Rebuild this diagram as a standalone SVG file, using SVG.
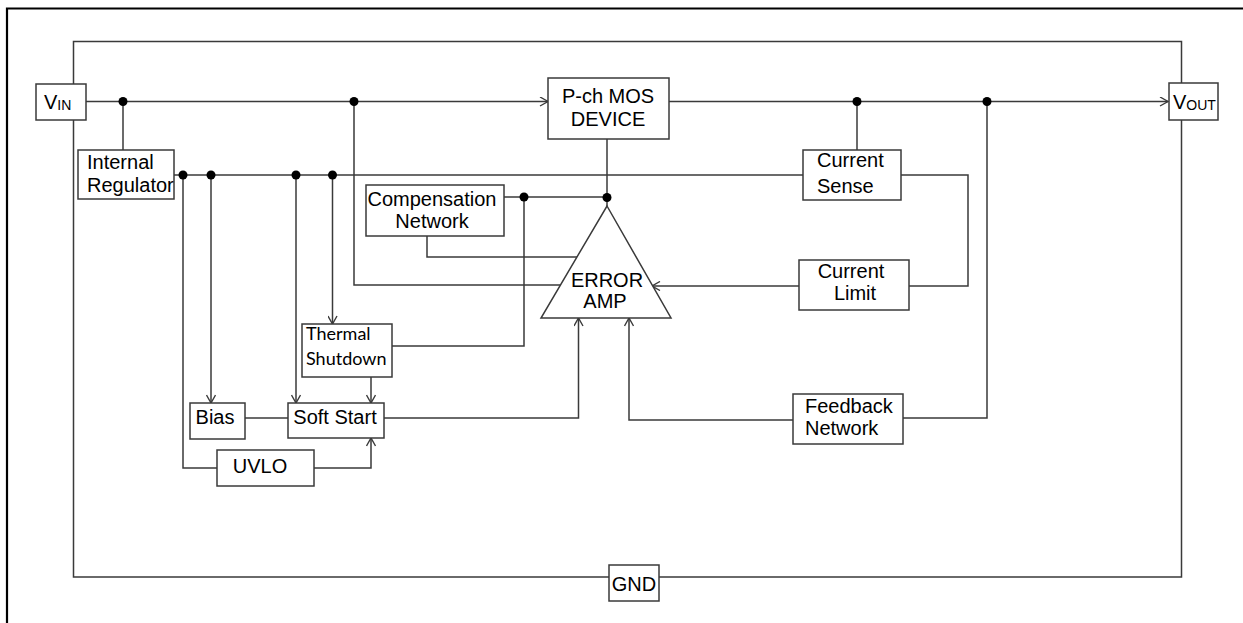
<svg xmlns="http://www.w3.org/2000/svg" width="1243" height="623" viewBox="0 0 1243 623">
<style>
.box{fill:#fff;stroke:#3a3a3a;stroke-width:1.5}
.w{fill:none;stroke:#3a3a3a;stroke-width:1.5}
.a{fill:none;stroke:#3a3a3a;stroke-width:1.5;marker-end:url(#arr)}
.dot{fill:#000}
text{font-family:"Liberation Sans",Arial,sans-serif;font-size:20px;fill:#000}
.c{text-anchor:middle}
.cal{font-family:Lato,"Open Sans",sans-serif;font-size:18px}
.sub{font-size:14px}
</style>
<defs>
<marker id="arr" markerWidth="10" markerHeight="10" refX="9" refY="5" orient="auto" markerUnits="userSpaceOnUse">
<path d="M1,0.5 L9,5 L1,9.5" fill="none" stroke="#3a3a3a" stroke-width="1.4"/>
</marker>
</defs>
<rect width="1243" height="623" fill="#fff"/>
<g id="frame">
<path d="M7,623 V8.5 H1243" fill="none" stroke="#000" stroke-width="2.2"/>
</g>
<g id="connectors">
<!-- outer loop -->
<path class="w" d="M73.5,84 V41.5 H1181.5 V83"/>
<path class="w" d="M73.5,120 V577 H609"/>
<path class="w" d="M659,577 H1181.5 V120"/>
<!-- VIN rail -->
<path class="a" d="M86,101.5 H548"/>
<path class="a" d="M669,101.5 H1168"/>
<path class="w" d="M123,101.5 V150"/>
<path class="w" d="M354,101.5 V285 H560.5"/>
<path class="w" d="M857,101.5 V150"/>
<path class="w" d="M987,101.5 V418 H903"/>
<!-- regulator bus -->
<path class="w" d="M174,175 H803"/>
<path class="w" d="M901,175 H968 V286 H909"/>
<path class="a" d="M799,286 H652"/>
<path class="a" d="M211,175 V403"/>
<path class="a" d="M296,175 V403"/>
<path class="a" d="M332.5,175 V324"/>
<path class="w" d="M183,175 V468 H217"/>
<path class="a" d="M314,468 H371 V438"/>
<path class="a" d="M371,377 V403"/>
<path class="w" d="M245,418 H288"/>
<path class="a" d="M384,418 H578.5 V318"/>
<path class="a" d="M793,420 H629 V318"/>
<!-- P-ch to amp -->
<path class="w" d="M607,139 V206"/>
<path class="w" d="M504,197 H607"/>
<path class="w" d="M524,197 V346 H392"/>
<path class="w" d="M427,236 V257 H577"/>
</g>
<g id="dots">
<circle class="dot" cx="123" cy="101.5" r="4.5"/>
<circle class="dot" cx="354" cy="101.5" r="4.5"/>
<circle class="dot" cx="857" cy="101.5" r="4.5"/>
<circle class="dot" cx="987" cy="101.5" r="4.5"/>
<circle class="dot" cx="183" cy="175" r="4.5"/>
<circle class="dot" cx="211" cy="175" r="4.5"/>
<circle class="dot" cx="296" cy="175" r="4.5"/>
<circle class="dot" cx="332.5" cy="175" r="4.5"/>
<circle class="dot" cx="524" cy="197" r="4.5"/>
<circle class="dot" cx="607" cy="197.5" r="4.5"/>
</g>
<g id="vin">
<rect class="box" x="36" y="84" width="50" height="36"/>
<text x="44" y="109">V<tspan class="sub" dy="1">IN</tspan></text>
</g>
<g id="vout">
<rect class="box" x="1169" y="83" width="49" height="37"/>
<text x="1173" y="109">V<tspan class="sub" dy="1">OUT</tspan></text>
</g>
<g id="pch">
<rect class="box" x="548" y="78" width="121" height="61"/>
<text class="c" x="608" y="103">P-ch MOS</text>
<text class="c" x="608" y="126">DEVICE</text>
</g>
<g id="internal-regulator">
<rect class="box" x="78" y="150" width="96" height="49"/>
<text x="87" y="169">Internal</text>
<text x="87" y="192">Regulator</text>
</g>
<g id="compensation">
<rect class="box" x="366" y="185" width="138" height="51"/>
<text class="c" x="432" y="206">Compensation</text>
<text class="c" x="432" y="228">Network</text>
</g>
<g id="current-sense">
<rect class="box" x="803" y="150" width="98" height="50"/>
<text x="817" y="167">Current</text>
<text x="817" y="193">Sense</text>
</g>
<g id="current-limit">
<rect class="box" x="799" y="260" width="110" height="50"/>
<text class="c" x="851" y="278">Current</text>
<text class="c" x="855" y="300">Limit</text>
</g>
<g id="error-amp">
<path class="box" d="M607,206 L671,318 L541,318 Z"/>
<text class="c" x="607" y="287">ERROR</text>
<text class="c" x="605" y="308">AMP</text>
</g>
<g id="thermal">
<rect class="box" x="302" y="324" width="90" height="53"/>
<text class="cal" x="306" y="340">Thermal</text>
<text class="cal" x="306" y="365">Shutdown</text>
</g>
<g id="bias">
<rect class="box" x="190" y="403" width="55" height="36"/>
<text class="c" x="215" y="424">Bias</text>
</g>
<g id="soft-start">
<rect class="box" x="288" y="403" width="96" height="35"/>
<text class="c" x="335" y="424">Soft Start</text>
</g>
<g id="uvlo">
<rect class="box" x="217" y="450" width="97" height="36"/>
<text class="c" x="260" y="473">UVLO</text>
</g>
<g id="feedback">
<rect class="box" x="793" y="394" width="110" height="50"/>
<text x="805" y="413">Feedback</text>
<text x="805" y="435">Network</text>
</g>
<g id="gnd">
<rect class="box" x="609" y="565" width="50" height="36"/>
<text class="c" x="634" y="591">GND</text>
</g>
</svg>
